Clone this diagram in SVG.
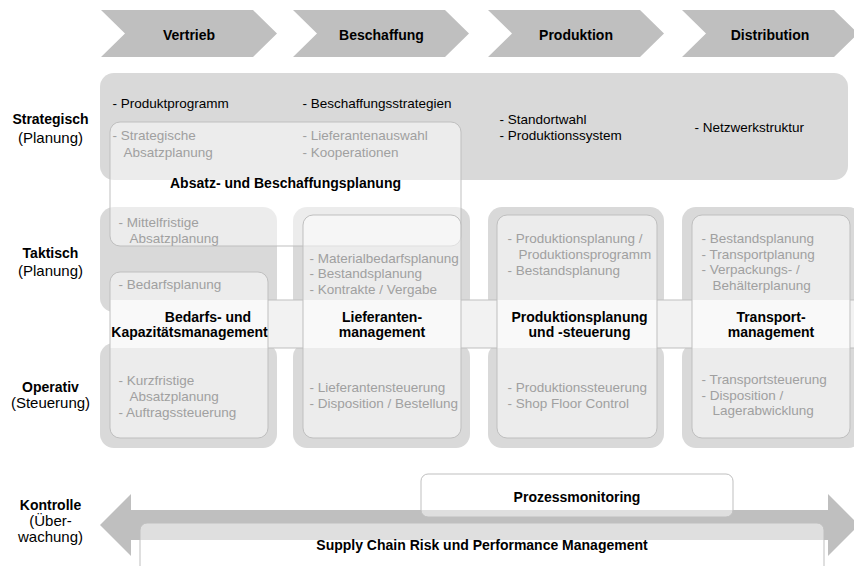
<svg xmlns="http://www.w3.org/2000/svg" width="854" height="566" viewBox="0 0 854 566">
<style>
.chev{fill:#bfbfbf}
.strat{fill:#d9d9d9}
.col{fill:#d9d9d9}
.box{fill:#ffffff;fill-opacity:0.5;stroke:#bfbfbf;stroke-width:1}
.hb{fill:#f2f2f2}
.ln{stroke:#bfbfbf;stroke-width:1;fill:none}
.arrow{fill:#bfbfbf}
text{font-family:"Liberation Sans",Arial,Helvetica,sans-serif}
.h{font-weight:bold;font-size:14px;fill:#000;text-anchor:middle}
.r{font-size:15px;fill:#000;text-anchor:middle}
.k{font-size:13.5px;fill:#000}
.g{font-size:13.5px;fill:#a0a0a0}
</style>
<rect width="854" height="566" fill="#ffffff"/>

<!-- process chevrons -->
<g id="chevron-vertrieb">
  <path class="chev" d="M101,10 H253 L277,33.5 L253,57 H101 L125,33.5 Z"/>
  <text class="h" x="189" y="39.5">Vertrieb</text>
</g>
<g id="chevron-beschaffung">
  <path class="chev" d="M293,10 H445 L469,33.5 L445,57 H293 L317,33.5 Z"/>
  <text class="h" x="381.5" y="39.5">Beschaffung</text>
</g>
<g id="chevron-produktion">
  <path class="chev" d="M488,10 H640 L664,33.5 L640,57 H488 L512,33.5 Z"/>
  <text class="h" x="576" y="39.5">Produktion</text>
</g>
<g id="chevron-distribution">
  <path class="chev" d="M682,10 H834 L858,33.5 L834,57 H682 L706,33.5 Z"/>
  <text class="h" x="770" y="39.5">Distribution</text>
</g>

<!-- row labels -->
<g id="label-strategisch">
  <text class="h" x="50.5" y="124">Strategisch</text>
  <text class="r" x="50.5" y="143">(Planung)</text>
</g>
<g id="label-taktisch">
  <text class="h" x="50.5" y="258">Taktisch</text>
  <text class="r" x="50.5" y="276">(Planung)</text>
</g>
<g id="label-operativ">
  <text class="h" x="50.5" y="391.5">Operativ</text>
  <text class="r" x="50.5" y="408">(Steuerung)</text>
</g>
<g id="label-kontrolle">
  <text class="h" x="50.5" y="509.5">Kontrolle</text>
  <text class="r" x="50.5" y="526">(Über-</text>
  <text class="r" x="50.5" y="542">wachung)</text>
</g>

<!-- strategic band -->
<g id="strategisch-band">
  <rect class="strat" x="100" y="73" width="748" height="107" rx="14"/>
</g>

<!-- tactical / operative column backgrounds -->
<g id="columns">
  <rect class="col" x="100" y="207" width="177" height="105" rx="14"/>
  <rect class="col" x="293" y="207" width="177" height="105" rx="14"/>
  <rect class="col" x="488" y="207" width="176" height="105" rx="14"/>
  <rect class="col" x="682" y="207" width="180" height="105" rx="14"/>
  <rect class="col" x="100" y="343" width="177" height="105" rx="14"/>
  <rect class="col" x="293" y="343" width="177" height="105" rx="14"/>
  <rect class="col" x="488" y="343" width="176" height="105" rx="14"/>
  <rect class="col" x="682" y="343" width="180" height="105" rx="14"/>
</g>

<!-- horizontal management band -->
<g id="management-band">
  <rect class="hb" x="110" y="300" width="750" height="48"/>
  <path class="ln" d="M268,300 H303 M461,300 H497 M657,300 H692 M850,300 H854 M268,348 H303 M461,348 H497 M657,348 H692 M850,348 H854"/>
</g>

<!-- Absatz- und Beschaffungsplanung -->
<g id="absatz-beschaffungsplanung">
  <rect class="box" x="110" y="122" width="351" height="124" rx="10"/>
  <text class="h" x="285.5" y="187.5">Absatz- und Beschaffungsplanung</text>
</g>

<!-- column boxes -->
<g id="bedarfs-kapazitaetsmanagement">
  <rect class="box" x="110" y="272" width="158" height="166" rx="10"/>
  <text class="h" x="208" y="321.5">Bedarfs- und</text>
  <text class="h" x="189.5" y="337">Kapazitätsmanagement</text>
</g>
<g id="lieferantenmanagement">
  <rect class="box" x="303" y="215" width="158" height="223" rx="10"/>
  <text class="h" x="382" y="321.5">Lieferanten-</text>
  <text class="h" x="382" y="337">management</text>
</g>
<g id="produktionsplanung-steuerung">
  <rect class="box" x="497" y="215" width="160" height="223" rx="10"/>
  <text class="h" x="579.5" y="321.5">Produktionsplanung</text>
  <text class="h" x="579.5" y="337">und -steuerung</text>
</g>
<g id="transportmanagement">
  <rect class="box" x="692" y="215" width="158" height="223" rx="10"/>
  <text class="h" x="771" y="321.5">Transport-</text>
  <text class="h" x="771" y="337">management</text>
</g>

<!-- strategic texts -->
<g id="strategisch-texte">
  <text class="k" x="112.5" y="107.5">- Produktprogramm</text>
  <text class="k" x="302.5" y="107.5">- Beschaffungsstrategien</text>
  <text class="g" x="112.5" y="140">- Strategische</text>
  <text class="g" x="123.5" y="156.5">Absatzplanung</text>
  <text class="g" x="302.5" y="140">- Lieferantenauswahl</text>
  <text class="g" x="302.5" y="156.5">- Kooperationen</text>
  <text class="k" x="499.5" y="123.5">- Standortwahl</text>
  <text class="k" x="499.5" y="139.5">- Produktionssystem</text>
  <text class="k" x="694.5" y="131.5">- Netzwerkstruktur</text>
</g>

<!-- tactical texts -->
<g id="taktisch-texte">
  <text class="g" x="118.5" y="227">- Mittelfristige</text>
  <text class="g" x="129.5" y="243">Absatzplanung</text>
  <text class="g" x="118.5" y="289">- Bedarfsplanung</text>
  <text class="g" x="309.5" y="262.5">- Materialbedarfsplanung</text>
  <text class="g" x="309.5" y="278">- Bestandsplanung</text>
  <text class="g" x="309.5" y="293.5">- Kontrakte / Vergabe</text>
  <text class="g" x="507.5" y="243">- Produktionsplanung /</text>
  <text class="g" x="518.5" y="259">Produktionsprogramm</text>
  <text class="g" x="507.5" y="275">- Bestandsplanung</text>
  <text class="g" x="701.5" y="242.5">- Bestandsplanung</text>
  <text class="g" x="701.5" y="258.5">- Transportplanung</text>
  <text class="g" x="701.5" y="274">- Verpackungs- /</text>
  <text class="g" x="712.5" y="289.5">Behälterplanung</text>
</g>

<!-- operative texts -->
<g id="operativ-texte">
  <text class="g" x="118.5" y="385">- Kurzfristige</text>
  <text class="g" x="129.5" y="401">Absatzplanung</text>
  <text class="g" x="118.5" y="416.5">- Auftragssteuerung</text>
  <text class="g" x="309.5" y="391.5">- Lieferantensteuerung</text>
  <text class="g" x="309.5" y="407.5">- Disposition / Bestellung</text>
  <text class="g" x="507.5" y="391.5">- Produktionssteuerung</text>
  <text class="g" x="507.5" y="407.5">- Shop Floor Control</text>
  <text class="g" x="701.5" y="383.5">- Transportsteuerung</text>
  <text class="g" x="701.5" y="399.5">- Disposition /</text>
  <text class="g" x="712.5" y="415">Lagerabwicklung</text>
</g>

<!-- control arrow -->
<g id="connectors">
  <path class="arrow" d="M100,525 L131,494 V510 H828 V494 L859,525 L828,556 V540 H131 V556 Z"/>
</g>

<g id="prozessmonitoring">
  <rect class="box" x="421" y="474" width="312" height="43" rx="7"/>
  <text class="h" x="577" y="501.5">Prozessmonitoring</text>
</g>
<g id="supply-chain-risk">
  <rect class="box" x="140" y="523" width="684" height="60" rx="7"/>
  <text class="h" x="482" y="550">Supply Chain Risk und Performance Management</text>
</g>
</svg>
